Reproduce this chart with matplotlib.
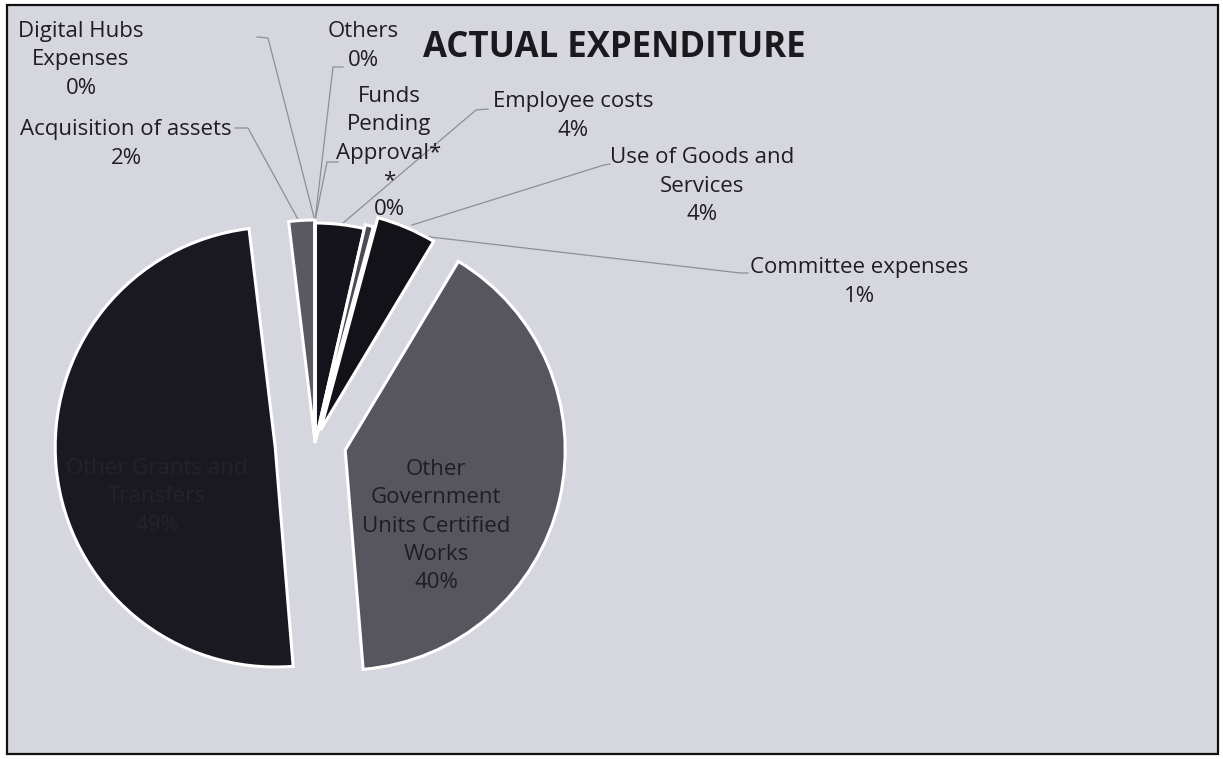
import matplotlib
matplotlib.use('Agg')
import matplotlib.pyplot as plt
from matplotlib.patches import Rectangle

W, H = 1223, 759

# === Data (clockwise from 12 o'clock) ===
categories = ['Employee costs', 'Committee expenses', 'Use of Goods and Services',
              'Other Government Units Certified Works', 'Other Grants and Transfers',
              'Acquisition of assets', 'Digital Hubs Expenses', 'Others',
              'Funds Pending Approval**']
shares = [3.6, 0.6, 4.4, 40.1, 49.4, 1.9, 0.0, 0.0, 0.0]

# wrapped names as they appear on the chart
display_names = ['Employee costs', 'Committee expenses', 'Use of Goods and\nServices',
                 'Other\nGovernment\nUnits Certified\nWorks', 'Other Grants and\nTransfers',
                 'Acquisition of assets', 'Digital Hubs\nExpenses', 'Others',
                 'Funds\nPending\nApproval*\n*']

# === Style ===
colors = ['#15141c', '#4c4b54', '#131218', '#57565e', '#1a1922', '#5a5961',
          '#ffffff', '#ffffff', '#ffffff']
explode = [0, 4, 14, 31, 40, 3, 0, 0, 0]
BG = '#d5d6de'
TXT = '#1e1e22'
LINE = '#8e8e96'

plt.rcParams['font.family'] = ['Open Sans', 'DejaVu Sans']

fig = plt.figure(figsize=(W / 100, H / 100), dpi=100)
fig.patch.set_facecolor('white')
ax = fig.add_axes([0, 0, 1, 1])


def Y(y):
    # pixel row (top-down) -> data y
    return H - y


ax.add_patch(Rectangle((7, Y(754)), 1211, 749, facecolor=BG, edgecolor='#111111',
                       linewidth=1.6, zorder=0))

wedges, _ = ax.pie(shares, colors=colors, startangle=90, counterclock=False,
                   radius=220, center=(315, Y(443)), explode=explode,
                   wedgeprops=dict(edgecolor='white', linewidth=2.2),
                   normalize=True)
for w in wedges:
    w.set_zorder(2)

ax.set_xlim(0, W)
ax.set_ylim(0, H)
ax.set_aspect('equal')
ax.axis('off')

pct = [f'{round(v)}%' for v in shares]

# label block centres (x, y-from-top), in the same order as the data
label_pos = [(573, 116), (859, 282), (702, 186), (436, 526), (157, 497),
             (126, 144), (81, 60), (363, 46), (389, 153)]
label_col = [TXT, TXT, TXT, TXT, '#24232d', TXT, TXT, TXT, TXT]
for name, p, (x, y), c in zip(display_names, pct, label_pos, label_col):
    ax.text(x, Y(y), f'{name}\n{p}', ha='center', va='center', fontsize=16,
            color=c, linespacing=1.45, zorder=5)

# leader lines
leaders = [
    [(488, 109), (476, 110), (343, 223)],   # Employee costs
    [(748, 273), (740, 273), (370, 230)],   # Committee expenses
    [(610, 164), (604, 165), (412, 225)],   # Use of Goods and Services
    [(235, 128), (248, 128), (300, 223)],   # Acquisition of assets
    [(257, 37), (268, 38), (315, 221)],     # Digital Hubs
    [(343, 67), (333, 67), (315, 221)],     # Others
    [(338, 162), (327, 162), (315, 221)],   # Funds Pending
]
for pts in leaders:
    xs = [p[0] for p in pts]
    ys = [Y(p[1]) for p in pts]
    ax.plot(xs, ys, color=LINE, linewidth=0.9, zorder=1.5)

ax.text(614, Y(48), 'ACTUAL EXPENDITURE', ha='center', va='center',
        fontsize=25, fontweight='bold', color='#1a1a1e', zorder=5)

fig.savefig('out.png', dpi=100, facecolor='white')
plt.close(fig)
